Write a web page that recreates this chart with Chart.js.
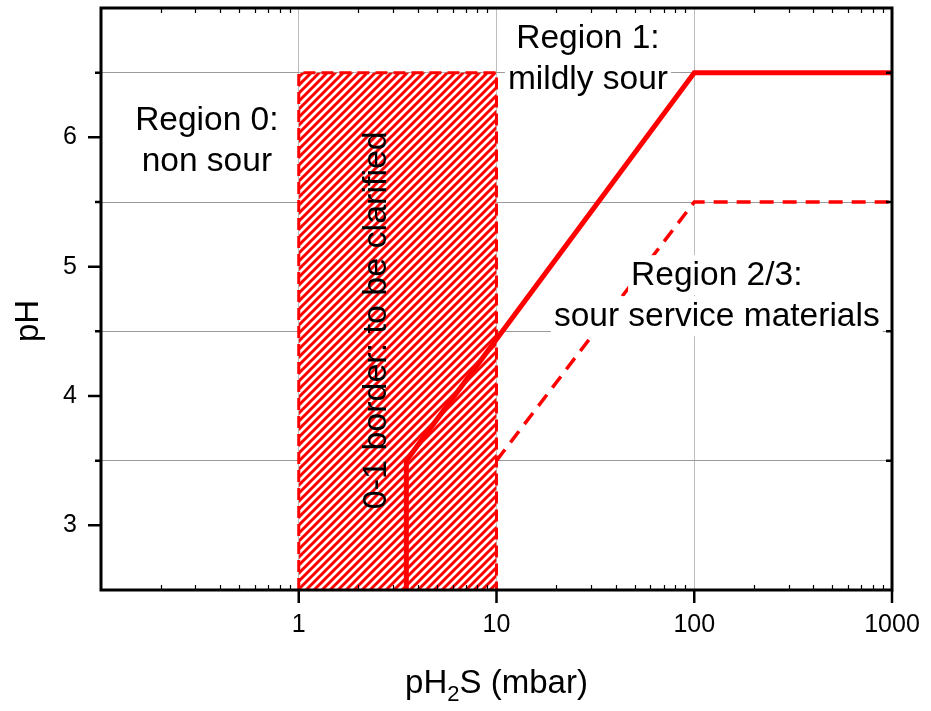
<!DOCTYPE html>
<html>
<head>
<meta charset="utf-8">
<script src="https://cdn.jsdelivr.net/npm/chart.js@4"></script>
<style>
  body { margin: 0; background: #fff; }
</style>
</head>
<body>
<canvas id="sourChart" width="931" height="711"></canvas>
<script>
// tick labels
const xTicks = [1, 10, 100, 1000];
const yTicks = [3, 4, 5, 6];

// 0-1 border zone (hatched box)
const borderZoneX = [1, 1, 10, 10];
const borderZoneY = [2.5, 6.5, 6.5, 2.5];

// region 1 / region 2 limit (solid)
const mildLimitX = [3.5, 3.5, 100, 1000];
const mildLimitY = [2.5, 3.5, 6.5, 6.5];

// region 2 / region 3 limit (dashed)
const serviceLimitX = [10, 100, 1000];
const serviceLimitY = [3.5, 5.5, 5.5];

const RED = '#ff0000';
const FONT = "'Liberation Sans', Arial, sans-serif";

function toPoints(xs, ys) {
  return xs.map((x, i) => ({ x: x, y: ys[i] }));
}

function makeHatch() {
  const c = document.createElement('canvas');
  c.width = 8;
  c.height = 8;
  const g = c.getContext('2d');
  g.fillStyle = '#fff';
  g.fillRect(0, 0, 8, 8);
  g.strokeStyle = RED;
  g.lineWidth = 3;
  g.beginPath();
  g.moveTo(-1, 9); g.lineTo(9, -1);
  g.moveTo(-2, 2); g.lineTo(2, -2);
  g.moveTo(6, 10); g.lineTo(10, 6);
  g.stroke();
  return g.createPattern(c, 'repeat');
}

// text labels, placed in data coordinates
const notes = [
  { lines: ['Region 0:', 'non sour'], x: 0.343, y: 6.056, box: false },
  { lines: ['Region 1:', 'mildly sour'], x: 29, y: 6.69, box: true },
  { lines: ['Region 2/3:', 'sour service materials'], x: 130, y: 4.857, box: true },
];

const overlay = {
  id: 'overlay',
  afterDatasetsDraw(chart) {
    const ctx = chart.ctx;
    const xs = chart.scales.x, ys = chart.scales.y;
    ctx.save();
    ctx.font = '33.5px ' + FONT;
    ctx.textAlign = 'center';
    ctx.textBaseline = 'alphabetic';
    for (const n of notes) {
      const cx = xs.getPixelForValue(n.x);
      const by = ys.getPixelForValue(n.y);
      n.lines.forEach((t, i) => {
        const y = by + i * 41;
        if (n.box) {
          const w = ctx.measureText(t).width;
          ctx.fillStyle = '#fff';
          ctx.fillRect(cx - w / 2 - 3, y - 30, w + 6, 40);
        }
      });
      ctx.fillStyle = '#000';
      n.lines.forEach((t, i) => ctx.fillText(t, cx, by + i * 41));
    }
    // rotated label in the hatched zone
    ctx.font = '34px ' + FONT;
    ctx.translate(xs.getPixelForValue(2.75), ys.getPixelForValue(4.586));
    ctx.rotate(-Math.PI / 2);
    ctx.fillText('0-1 border: to be clarified', 0, 0);
    ctx.restore();
  },
  afterDraw(chart) {
    const ctx = chart.ctx;
    const a = chart.chartArea;
    const xs = chart.scales.x, ys = chart.scales.y;
    ctx.save();
    ctx.strokeStyle = '#000';
    ctx.lineWidth = 3;
    ctx.strokeRect(a.left, a.top, a.right - a.left, a.bottom - a.top);

    ctx.beginPath();
    ctx.lineWidth = 2.5;
    for (const v of xTicks) {
      const px = xs.getPixelForValue(v);
      ctx.moveTo(px, a.bottom); ctx.lineTo(px, a.bottom + 13);
    }
    for (const v of yTicks) {
      const py = ys.getPixelForValue(v);
      ctx.moveTo(a.left - 13, py); ctx.lineTo(a.left, py);
    }
    for (let v = 3.5; v < 7; v += 1) {
      const py = ys.getPixelForValue(v);
      ctx.moveTo(a.left - 6, py); ctx.lineTo(a.left, py);
      ctx.moveTo(a.right - 6, py); ctx.lineTo(a.right, py);
    }
    ctx.stroke();

    // log minor ticks, inward
    ctx.beginPath();
    ctx.lineWidth = 1.2;
    for (let d = 0.1; d < 1000; d *= 10) {
      for (let k = 2; k <= 9; k++) {
        const px = Math.round(xs.getPixelForValue(d * k)) + 0.5;
        ctx.moveTo(px, a.bottom); ctx.lineTo(px, a.bottom - 5);
        ctx.moveTo(px, a.top); ctx.lineTo(px, a.top + 5);
      }
    }
    ctx.stroke();

    // axis titles
    ctx.fillStyle = '#000';
    ctx.textBaseline = 'alphabetic';
    ctx.save();
    ctx.font = '33px ' + FONT;
    ctx.textAlign = 'center';
    ctx.translate(38, 321);
    ctx.rotate(-Math.PI / 2);
    ctx.fillText('pH', 0, 0);
    ctx.restore();

    const big = '33px ' + FONT, small = '22px ' + FONT;
    ctx.font = big;
    const w1 = ctx.measureText('pH').width;
    const w3 = ctx.measureText('S (mbar)').width;
    ctx.font = small;
    const w2 = ctx.measureText('2').width;
    let x0 = (a.left + a.right) / 2 - (w1 + w2 + w3) / 2;
    const base = 693;
    ctx.textAlign = 'left';
    ctx.font = big;
    ctx.fillText('pH', x0, base);
    ctx.font = small;
    ctx.fillText('2', x0 + w1, base + 8);
    ctx.font = big;
    ctx.fillText('S (mbar)', x0 + w1 + w2, base);
    ctx.restore();
  }
};

Chart.defaults.font.family = FONT;
Chart.defaults.color = '#000';

new Chart(document.getElementById('sourChart'), {
  type: 'line',
  data: {
    datasets: [
      {
        data: toPoints(mildLimitX, mildLimitY),
        borderColor: RED,
        borderWidth: 5,
        pointRadius: 0,
        fill: false,
        order: 0
      },
      {
        data: toPoints(serviceLimitX, serviceLimitY),
        borderColor: RED,
        borderWidth: 3.5,
        borderDash: [14, 9],
        pointRadius: 0,
        fill: false,
        order: 1
      },
      {
        data: toPoints(borderZoneX, borderZoneY),
        borderColor: RED,
        borderWidth: 3,
        borderDash: [12, 6],
        pointRadius: 0,
        fill: false,
        order: 2
      },
      {
        data: toPoints(borderZoneX.slice(1, 3), borderZoneY.slice(1, 3)),
        borderWidth: 0,
        borderColor: 'rgba(0,0,0,0)',
        backgroundColor: makeHatch(),
        pointRadius: 0,
        fill: 'start',
        order: 3
      }
    ]
  },
  options: {
    responsive: false,
    devicePixelRatio: 1,
    animation: false,
    layout: { padding: { top: 8, right: 39, left: 0, bottom: 0 } },
    plugins: {
      legend: { display: false },
      tooltip: { enabled: false }
    },
    scales: {
      x: {
        type: 'logarithmic',
        min: 0.1,
        max: 1000,
        afterBuildTicks: axis => { axis.ticks = xTicks.map(v => ({ value: v })); },
        afterFit: s => {
          s.height = 121;
          s.paddingLeft = 0;
          s.paddingRight = 0;
        },
        border: { display: false },
        grid: { color: '#bdbdbd', lineWidth: 1, drawTicks: false },
        ticks: {
          font: { size: 25 },
          padding: 20,
          maxRotation: 0,
          autoSkip: false,
          callback: v => String(v)
        }
      },
      y: {
        type: 'linear',
        min: 2.5,
        max: 7,
        afterFit: s => {
          s.width = 101;
          s.paddingTop = 0;
          s.paddingBottom = 0;
        },
        border: { display: false },
        grid: {
          drawTicks: false,
          lineWidth: 1,
          color: c => (c.tick && !Number.isInteger(c.tick.value)) ? '#9a9a9a' : 'rgba(0,0,0,0)'
        },
        ticks: {
          stepSize: 0.5,
          font: { size: 25 },
          padding: 24,
          callback: v => yTicks.includes(v) ? String(v) : ''
        }
      }
    }
  },
  plugins: [overlay]
});
</script>
</body>
</html>
